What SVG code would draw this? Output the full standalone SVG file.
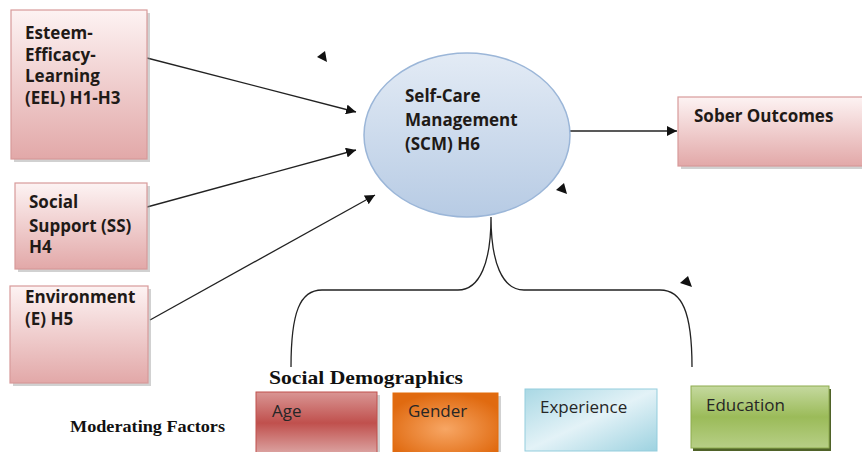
<svg xmlns="http://www.w3.org/2000/svg" width="862" height="452" viewBox="0 0 862 452">
<defs>
<linearGradient id="gPink" x1="0" y1="0" x2="0" y2="1"><stop offset="0" stop-color="#fdf3f3"/><stop offset="1" stop-color="#e2a8a8"/></linearGradient>
<linearGradient id="gBlue" x1="0" y1="0" x2="0" y2="1"><stop offset="0" stop-color="#e3ebf5"/><stop offset="1" stop-color="#b7cbe4"/></linearGradient>
<linearGradient id="gRed" x1="0" y1="0" x2="0" y2="1"><stop offset="0" stop-color="#d99694"/><stop offset="0.5" stop-color="#c0504d"/><stop offset="1" stop-color="#dca5a3"/></linearGradient>
<radialGradient id="gOrange" cx="0.5" cy="0.6" r="0.6"><stop offset="0" stop-color="#f7a664"/><stop offset="1" stop-color="#e06a10"/></radialGradient>
<linearGradient id="gCyan" x1="0" y1="0" x2="1" y2="1"><stop offset="0" stop-color="#a9d8e4"/><stop offset="0.5" stop-color="#e3f2f7"/><stop offset="1" stop-color="#9dd2e0"/></linearGradient>
<linearGradient id="gGreen" x1="0" y1="0" x2="0" y2="1"><stop offset="0" stop-color="#c5d99f"/><stop offset="0.5" stop-color="#9bbb59"/><stop offset="1" stop-color="#b7cf86"/></linearGradient>
<marker id="arr" viewBox="0 0 10 10" refX="10" refY="5" markerWidth="10" markerHeight="10" markerUnits="userSpaceOnUse" orient="auto"><path d="M0,0 L10,5 L0,10 z" fill="#111"/></marker>
</defs>
<style>
.pink{fill:url(#gPink);stroke:#d79a9a;stroke-width:1.2}
.shadow{fill:#9a9a9a;opacity:0.45}
.lbl{font-family:"Open Sans","Liberation Sans",sans-serif;font-weight:bold;font-size:17px;fill:#1f1a17}
.sm{font-family:"Open Sans","Liberation Sans",sans-serif;font-size:17px;fill:#262626}
.serif{font-family:"Liberation Serif","Times New Roman",serif;font-weight:bold;fill:#111}
.conn{stroke:#222;stroke-width:1.3;fill:none}
</style>
<g id="connectors">
<line class="conn" x1="147" y1="58" x2="356" y2="112" marker-end="url(#arr)"/>
<line class="conn" x1="147" y1="207" x2="356" y2="150" marker-end="url(#arr)"/>
<line class="conn" x1="150" y1="320" x2="375" y2="195" marker-end="url(#arr)"/>
<line class="conn" x1="570" y1="131" x2="677" y2="131" marker-end="url(#arr)"/>
<path class="conn" d="M291,367 C291,312 300,290 322,290 L458,290 C480,290 491,262 491,217 C491,262 502,290 524,290 L660,290 C682,290 692,312 692,367"/>
<polygon points="317,57 325,51 327,62" fill="#111"/>
<polygon points="556,190 564,183 567,194" fill="#111"/>
<polygon points="680,283 688,276 692,287" fill="#111"/>
</g>
<g id="eel">
<rect class="shadow" x="14" y="13" width="136" height="149"/>
<rect class="pink" x="11" y="10" width="136" height="149"/>
<text class="lbl" x="25" y="39">Esteem-</text>
<text class="lbl" x="25" y="61">Efficacy-</text>
<text class="lbl" x="25" y="82">Learning</text>
<text class="lbl" x="25" y="104">(EEL) H1-H3</text>
</g>
<g id="ss">
<rect class="shadow" x="18" y="186" width="132" height="86"/>
<rect class="pink" x="15" y="183" width="132" height="86"/>
<text class="lbl" x="29" y="208">Social</text>
<text class="lbl" x="29" y="232">Support (SS)</text>
<text class="lbl" x="29" y="253">H4</text>
</g>
<g id="env">
<rect class="shadow" x="13" y="289" width="138" height="97"/>
<rect class="pink" x="10" y="286" width="138" height="97"/>
<text class="lbl" x="25" y="303">Environment</text>
<text class="lbl" x="25" y="325">(E) H5</text>
</g>
<g id="scm">
<ellipse cx="467" cy="135" rx="103" ry="82" fill="url(#gBlue)" stroke="#9bb6d8" stroke-width="1.5"/>
<text class="lbl" x="405" y="102">Self-Care</text>
<text class="lbl" x="405" y="126">Management</text>
<text class="lbl" x="405" y="150">(SCM) H6</text>
</g>
<g id="sober">
<rect class="shadow" x="681" y="100" width="184" height="69"/>
<rect class="pink" x="678" y="97" width="190" height="69"/>
<text class="lbl" x="694" y="122">Sober Outcomes</text>
</g>
<g id="social-demographics">
<text class="serif" x="269" y="384" font-size="19" textLength="194" lengthAdjust="spacingAndGlyphs">Social Demographics</text>
</g>
<g id="moderating">
<text class="serif" x="70" y="432" font-size="17" textLength="155" lengthAdjust="spacingAndGlyphs">Moderating Factors</text>
</g>
<g id="age">
<rect class="shadow" x="259" y="395" width="121" height="62"/>
<rect x="256" y="392" width="121" height="62" fill="url(#gRed)" stroke="#c0504d" stroke-width="1"/>
<text class="sm" x="272" y="417">Age</text>
</g>
<g id="gender">
<rect class="shadow" x="396" y="396" width="105" height="60"/>
<rect x="393" y="393" width="105" height="60" fill="url(#gOrange)" stroke="#e46c0a" stroke-width="1"/>
<text class="sm" x="408" y="417">Gender</text>
</g>
<g id="experience">
<rect x="525" y="389" width="132" height="62" fill="url(#gCyan)" stroke="#93cddd" stroke-width="1"/>
<text class="sm" x="540" y="413">Experience</text>
</g>
<g id="education">
<rect x="693" y="389" width="138" height="62" fill="#4f6228"/>
<rect x="691" y="386" width="138" height="62" fill="url(#gGreen)" stroke="#8eac4f" stroke-width="1"/>
<text class="sm" x="706" y="411">Education</text>
</g>
</svg>
